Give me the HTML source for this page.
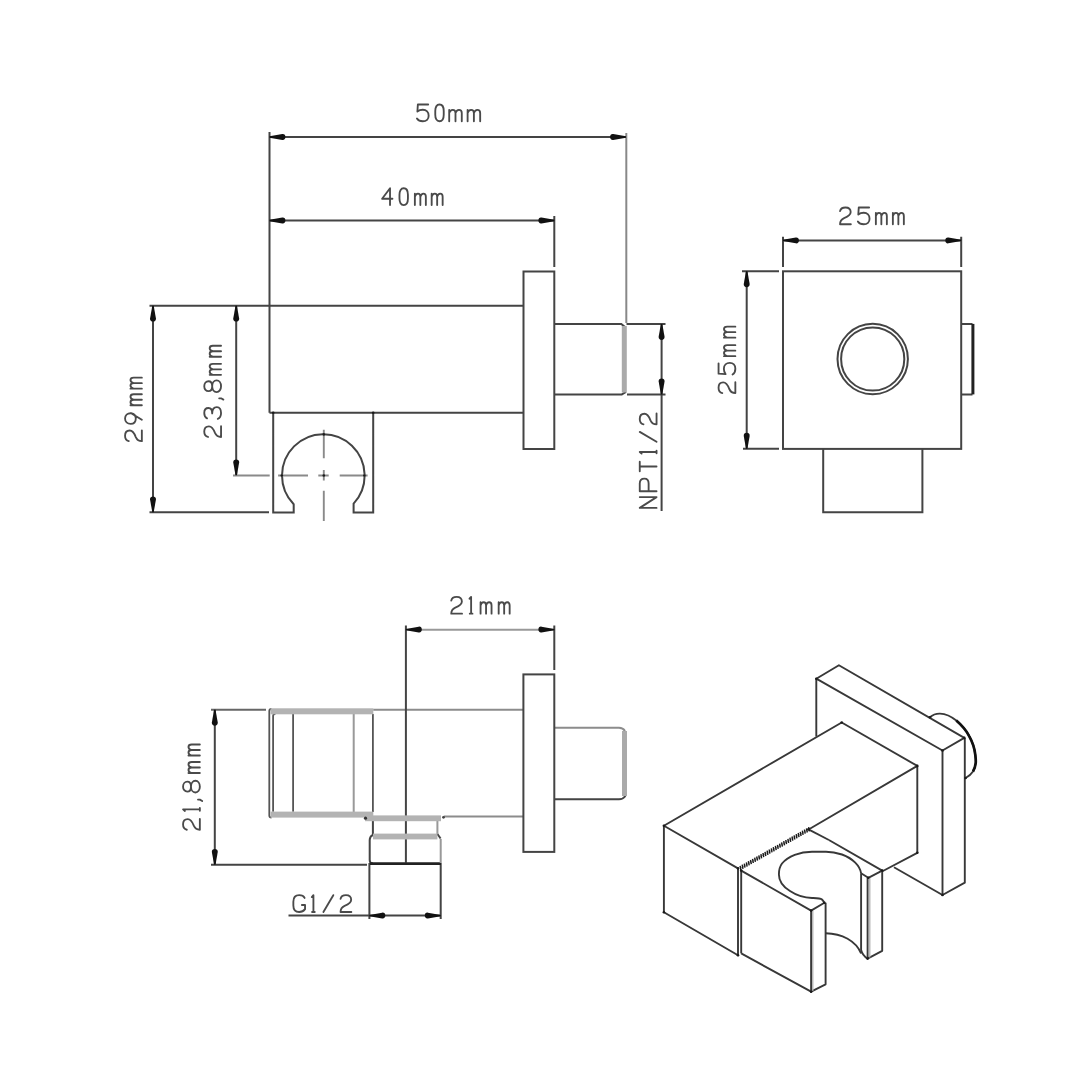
<!DOCTYPE html>
<html><head><meta charset="utf-8"><title>drawing</title>
<style>
html,body{margin:0;padding:0;background:#fff;width:1080px;height:1080px;overflow:hidden}
svg{display:block}
.t path{vector-effect:non-scaling-stroke}
</style></head>
<body>
<svg width="1080" height="1080" viewBox="0 0 1080 1080">
<defs>
<path id="ar" d="M0,-0.7 L-12.8,-2.95 C-14.9,-3.2 -15.9,-1.8 -15.9,0 C-15.9,1.8 -14.9,3.2 -12.8,2.95 L0,0.7 Z" fill="#111"/>
</defs>
<rect width="1080" height="1080" fill="#fff"/>

<!-- ============ TOP LEFT SIDE VIEW ============ -->
<g fill="none" stroke="#444" stroke-width="2">
  <!-- body -->
  <path d="M269.5,305.7 H523.5 M269.5,412.8 H523.5 M269.5,132 V412.8"/>
  <!-- flange -->
  <rect x="523.5" y="271.5" width="30.8" height="177.5"/>
  <!-- pipe -->
  <path d="M554.3,324 H621.3 L625,327 M626.5,324 H665.5 M554.3,394.4 H621.8 L626,392 M627,394.4 H665.5"/>
  <!-- holder -->
  <path d="M273.2,412.8 V512.5 H293.7 V504.3 A41.3,41.3 0 1 1 353.6,503.6 V512.5 H373.2 V412.8"/>
  <!-- 50mm dim -->
  <path d="M269.5,137 H626"/>
  <!-- 40mm dim -->
  <path d="M269.5,220.5 H554.3 M554.3,216 V267"/>
  <!-- 29mm dim -->
  <path d="M149.5,305.7 H269.5 M149.5,512.3 H269 M153,305.7 V512.3"/>
  <!-- 23,8 dim -->
  <path d="M236.2,305.7 V475.3"/>
  <!-- NPT dim -->
  <path d="M661.6,324 V511"/>
</g>
<g fill="none" stroke="#888" stroke-width="2">
  <path d="M626.3,133 V323"/>
</g>
<line x1="624.3" y1="326" x2="624.3" y2="392.5" stroke="#aaa" stroke-width="5"/>
<!-- center lines -->
<g fill="none" stroke="#8a8a8a" stroke-width="1.9">
  <path d="M233,475.5 H269.7 M278.1,475.5 H308 M318.3,475.5 H328.7 M339.7,475.5 H367.6"/>
  <path d="M323.8,429.8 V458.3 M323.8,470 V480.4 M323.8,490.7 V521"/>
</g>
<!-- arrows top-left view -->
<use href="#ar" transform="translate(269.5,137) rotate(180)"/>
<use href="#ar" transform="translate(626,137)"/>
<use href="#ar" transform="translate(269.5,220.5) rotate(180)"/>
<use href="#ar" transform="translate(554.3,220.5)"/>
<use href="#ar" transform="translate(153,305.7) rotate(-90)"/>
<use href="#ar" transform="translate(153,512.3) rotate(90)"/>
<use href="#ar" transform="translate(236.2,305.7) rotate(-90)"/>
<use href="#ar" transform="translate(236.2,475.3) rotate(90)"/>
<use href="#ar" transform="translate(661.6,324) rotate(-90)"/>
<use href="#ar" transform="translate(661.6,394.4) rotate(90)"/>

<!-- ============ TOP RIGHT FRONT VIEW ============ -->
<g fill="none" stroke="#444" stroke-width="2">
  <rect x="783" y="271.3" width="178.2" height="177.6"/>
  <circle cx="872.7" cy="359" r="35.2"/>
  <circle cx="872.7" cy="359" r="31.6"/>
  <path d="M961.2,323.9 H972.5 M961.2,394.4 H972.5"/>
  <path d="M823.2,448.9 V512.3 H922.4 V448.9"/>
  <!-- dims -->
  <path d="M783,240.4 H961.2 M783,236.8 V267 M961.2,236.7 V267"/>
  <path d="M746.7,271.3 V448.7 M742,271.3 H779 M743,448.7 H779"/>
</g>
<line x1="972.9" y1="323.9" x2="972.9" y2="394.4" stroke="#222" stroke-width="3"/>
<use href="#ar" transform="translate(783,240.4) rotate(180)"/>
<use href="#ar" transform="translate(961.2,240.4)"/>
<use href="#ar" transform="translate(746.7,271.3) rotate(-90)"/>
<use href="#ar" transform="translate(746.7,448.7) rotate(90)"/>

<!-- ============ BOTTOM LEFT TOP VIEW ============ -->
<!-- gray horizontal lines -->
<g fill="none" stroke="#8c8c8c" stroke-width="2">
  <path d="M373.2,709.7 H523.4 M443.7,816.6 H523.4 M554.3,727.8 H619 Q623,727.8 625,731"/>
  </g>
<path d="M211,709.8 H266" stroke="#666" stroke-width="2"/>
<path d="M405.9,629.7 H554.3" stroke="#999" stroke-width="2"/>
<g fill="none" stroke="#444" stroke-width="2">
  <!-- 21mm dim -->
  <path d="M405.9,625.4 V862.8 M554.3,625.4 V670"/>
  <!-- flange -->
  <rect x="523.4" y="674.4" width="30.9" height="177.5"/>
  <!-- pipe bottom -->
  <path d="M554.3,799.3 H619 Q623,799.3 625.5,796"/>
  <!-- 21,8 dim -->
  <path d="M214.8,709.8 V864.8 M211,864.8 H367"/>
  <!-- fitting -->
  <path d="M372.9,821 V834.8 Q369.7,836.5 369.7,840 V860 Q369.7,863.5 373,863.5"/>
  <path d="M437.4,834 L440.6,838.5"/>
  <!-- G1/2 dim -->
  <path d="M288.5,915.6 H440.7 M369.4,863 V919 M440.7,863 V919"/>
</g>
<g fill="none" stroke="#555" stroke-width="1.8">
  <!-- holder verticals -->
  <path d="M293.1,714 V811.8 M372.9,714 V812"/>
  <path d="M269.3,711 V815.5 Q269.3,817.5 271.5,817.5"/>
  <path d="M273.1,716 V811.7 M273.1,716 Q273.1,713.8 275.5,713.8"/>
  <path d="M269.3,711 Q269.3,709 271.5,709"/>
</g>
<line x1="370" y1="863.6" x2="441" y2="863.6" stroke="#222" stroke-width="2.7"/>
<g fill="none" stroke="#999" stroke-width="2">
  <path d="M437.4,820.5 V834"/>
  <path d="M353.7,714 V812"/>
  <path d="M440.7,839 V863"/>
</g>
<line x1="624.5" y1="731" x2="624.5" y2="796" stroke="#aaa" stroke-width="5"/>
<!-- gray bands -->
<rect x="270.5" y="708.3" width="102.8" height="6" fill="#b3b3b3"/>
<rect x="270.5" y="811.6" width="102.8" height="6" fill="#b3b3b3"/>
<rect x="365" y="815.4" width="76" height="5.8" fill="#b3b3b3"/>
<rect x="373" y="833.6" width="64.4" height="5.8" fill="#b3b3b3"/>
<circle cx="365.5" cy="818.2" r="1.6" fill="#333"/>
<circle cx="443.5" cy="817.3" r="1.4" fill="#444"/>
<use href="#ar" transform="translate(405.9,629.6) rotate(180)"/>
<use href="#ar" transform="translate(554.3,629.6)"/>
<use href="#ar" transform="translate(214.8,709.8) rotate(-90)"/>
<use href="#ar" transform="translate(214.8,864.8) rotate(90)"/>
<use href="#ar" transform="translate(369.4,915.6) rotate(180)"/>
<use href="#ar" transform="translate(440.7,915.6)"/>

<!-- ============ ISOMETRIC VIEW ============ -->
<g fill="none" stroke="#383838" stroke-width="1.9" stroke-linejoin="round">
  <!-- flange -->
  <path d="M816.3,736.5 V678.7 L838.9,665.2 L964.3,737.9 L942.5,750.5 L816.3,678.7"/>
  <path d="M942.5,750.5 V895 L964.8,882.7 V737.9"/>
  <path d="M942.5,895 L894,867.3"/>
  <!-- pipe arc behind flange -->
  <path d="M929.9,717.3 C933,714.5 936.5,713.5 940,713.6 C946,713.8 952,717 956.3,720.6 C962,725.5 966.5,731 969.3,736.3 C972.5,742 974.6,748.5 975.3,754.8 C975.8,759 975.9,761.5 975.7,763.1 C975.3,766.5 974.3,769.3 973,771.5 C971,774.5 968.5,776.5 965.6,778"/>
  <!-- body -->
  <path d="M841.7,722.5 L663.9,825.7 L738,868.4 M809,829.2 L917.3,765.9 V852.8 L882,871.5"/>
  <path d="M841.7,722.5 L917.3,765.9"/>
  <path d="M663.9,825.7 V912.3 L738,955.2 V868.4"/>
  <path d="M741.2,870.6 V953.4"/>
  <!-- holder -->
  <path d="M741.2,870.6 L811.1,910.6 L824.4,902.8"/>
  <path d="M741.2,953.4 L811.1,991.7 L825.6,984.3 V902.8"/>
  <path d="M811.1,910.6 V991.7"/>
  <path d="M828.9,840 L882.2,870.6 L868.3,877.8 L861.1,873.3"/>
  <path d="M808.5,829.3 L828.9,840"/>
  <path d="M882.2,870.6 V950.8 L867.6,958.6 V877.8"/>
  <path d="M861.1,873.3 V950 Q862.5,955.5 867.6,958.6"/>
  <!-- upper hook ellipse -->
  <path d="M861.1,873.3 C860,866 853,858.5 842,854.5 C836,852.5 832,851.7 826,851.7 H812 C800,851.7 788,856 782,863.5 C779.5,866.8 778.9,870.5 778.9,874.4 C778.9,880 782,886 790,891 C796,895 804,897.8 812,898 C816,898.1 820,898 822,899.5 Q823.5,901 824.4,902.8"/>
  <!-- lower arc -->
  <path d="M825.6,933.3 C842,933.5 856,941 861.1,953.5"/>
</g>
<path d="M956.3,720.6 C962,725.5 966.5,731 969.3,736.3 C972.5,742 974.6,748.5 975.3,754.8 C975.8,759 975.9,761.5 975.7,763.1 C975.3,766.5 974.3,769.3 973,771.5" fill="none" stroke="#111" stroke-width="2.7"/>
<!-- hatched edge -->
<line x1="740.5" y1="868" x2="809" y2="829.2" stroke="#999" stroke-width="0.8"/>
<path d="M740.1,865.9 L740.9,870.1 M742.2,864.7 L743.0,868.9 M744.3,863.6 L745.0,867.7 M746.4,862.4 L747.1,866.6 M748.4,861.2 L749.2,865.4 M750.5,860.0 L751.3,864.2 M752.6,858.9 L753.3,863.0 M754.7,857.7 L755.4,861.9 M756.7,856.5 L757.5,860.7 M758.8,855.3 L759.6,859.5 M760.9,854.2 L761.6,858.3 M763.0,853.0 L763.7,857.2 M765.0,851.8 L765.8,856.0 M767.1,850.6 L767.9,854.8 M769.2,849.5 L769.9,853.6 M771.3,848.3 L772.0,852.4 M773.3,847.1 L774.1,851.3 M775.4,845.9 L776.2,850.1 M777.5,844.8 L778.2,848.9 M779.6,843.6 L780.3,847.7 M781.6,842.4 L782.4,846.6 M783.7,841.2 L784.5,845.4 M785.8,840.0 L786.5,844.2 M787.9,838.9 L788.6,843.0 M789.9,837.7 L790.7,841.9 M792.0,836.5 L792.8,840.7 M794.1,835.3 L794.8,839.5 M796.2,834.2 L796.9,838.3 M798.2,833.0 L799.0,837.2 M800.3,831.8 L801.1,836.0 M802.4,830.6 L803.1,834.8 M804.5,829.5 L805.2,833.6 M806.5,828.3 L807.3,832.5 M808.6,827.1 L809.4,831.3" stroke="#1a1a1a" stroke-width="1.45" fill="none"/>
<g fill="none" stroke="#aaa" stroke-width="1.2">
  <path d="M812.8,911 V991"/>
  <path d="M869.8,878 V957.5"/>
</g>
<g fill="#1a1a1a"><circle cx="663.9" cy="825.7" r="1.3"/><circle cx="663.9" cy="912.3" r="1.3"/><circle cx="738" cy="868.4" r="1.3"/><circle cx="738" cy="955.2" r="1.3"/><circle cx="741.2" cy="870.6" r="1.3"/><circle cx="811.1" cy="910.6" r="1.3"/><circle cx="824.4" cy="902.8" r="1.3"/><circle cx="811.1" cy="991.7" r="1.3"/><circle cx="882.2" cy="870.6" r="1.3"/><circle cx="868.3" cy="877.8" r="1.3"/><circle cx="867.6" cy="958.6" r="1.3"/><circle cx="917.3" cy="765.9" r="1.3"/><circle cx="917.3" cy="852.8" r="1.3"/><circle cx="942.5" cy="750.5" r="1.3"/><circle cx="964.3" cy="737.9" r="1.3"/><circle cx="942.5" cy="895" r="1.3"/><circle cx="816.3" cy="678.7" r="1.3"/><circle cx="841.7" cy="722.5" r="1.3"/><circle cx="808.5" cy="829.3" r="1.3"/><circle cx="929.9" cy="717.3" r="1.3"/><circle cx="965.6" cy="778" r="1.3"/><circle cx="323.8" cy="434.4" r="1.3"/><circle cx="281.8" cy="475.5" r="1.3"/><circle cx="364.4" cy="475.5" r="1.3"/><circle cx="323.8" cy="475.5" r="1.3"/><circle cx="273.2" cy="412.8" r="1.3"/><circle cx="373.2" cy="412.8" r="1.3"/></g>
<g fill="none" stroke="#4a4a4a" stroke-width="1.85" stroke-linecap="round" stroke-linejoin="round" class="t">
<path transform="translate(416.50,121.25) scale(0.9,0.933)" d="M13,-18 H1.5 L1,-10.5 C3,-12 5,-12.3 7,-12.3 C11,-12.3 13.5,-9.5 13.5,-6 C13.5,-2.3 11,0 7,0 C4,0 1.8,-1 0.5,-3"/>
<path transform="translate(435.00,121.25) scale(0.9,0.933)" d="M5,-18 C1.8,-18 0.3,-15 0.3,-11 V-7 C0.3,-3 1.8,0 5,0 C8.2,0 9.7,-3 9.7,-7 V-11 C9.7,-15 8.2,-18 5,-18 Z"/>
<path transform="translate(448.90,121.25) scale(1.03,0.933)" d="M0.3,0 V-12.2 M0.3,-8.8 C1,-11.2 2.3,-12.2 3.7,-12.2 C5.4,-12.2 6.4,-10.9 6.4,-8.8 V0 M6.4,-8.8 C7.1,-11.2 8.4,-12.2 9.8,-12.2 C11.5,-12.2 12.5,-10.9 12.5,-8.8 V0"/>
<path transform="translate(467.30,121.25) scale(1.03,0.933)" d="M0.3,0 V-12.2 M0.3,-8.8 C1,-11.2 2.3,-12.2 3.7,-12.2 C5.4,-12.2 6.4,-10.9 6.4,-8.8 V0 M6.4,-8.8 C7.1,-11.2 8.4,-12.2 9.8,-12.2 C11.5,-12.2 12.5,-10.9 12.5,-8.8 V0"/>
<path transform="translate(382.10,205.05) scale(0.9,0.933)" d="M8.8,0 V-18 L0,-6.8 H11.5"/>
<path transform="translate(399.20,205.05) scale(0.9,0.933)" d="M5,-18 C1.8,-18 0.3,-15 0.3,-11 V-7 C0.3,-3 1.8,0 5,0 C8.2,0 9.7,-3 9.7,-7 V-11 C9.7,-15 8.2,-18 5,-18 Z"/>
<path transform="translate(414.60,205.05) scale(0.9,0.933)" d="M0.3,0 V-12.2 M0.3,-8.8 C1,-11.2 2.3,-12.2 3.7,-12.2 C5.4,-12.2 6.4,-10.9 6.4,-8.8 V0 M6.4,-8.8 C7.1,-11.2 8.4,-12.2 9.8,-12.2 C11.5,-12.2 12.5,-10.9 12.5,-8.8 V0"/>
<path transform="translate(431.40,205.05) scale(0.9,0.933)" d="M0.3,0 V-12.2 M0.3,-8.8 C1,-11.2 2.3,-12.2 3.7,-12.2 C5.4,-12.2 6.4,-10.9 6.4,-8.8 V0 M6.4,-8.8 C7.1,-11.2 8.4,-12.2 9.8,-12.2 C11.5,-12.2 12.5,-10.9 12.5,-8.8 V0"/>
<path transform="translate(839.60,224.25) scale(0.9,0.933)" d="M0.5,-14 C1,-16.5 3.5,-18 6.5,-18 C10,-18 12.3,-16 12.3,-13 C12.3,-9.5 9,-8 5,-6.5 C1.5,-5 0.5,-3 0.5,0 H12.5"/>
<path transform="translate(857.40,224.25) scale(0.9,0.933)" d="M13,-18 H1.5 L1,-10.5 C3,-12 5,-12.3 7,-12.3 C11,-12.3 13.5,-9.5 13.5,-6 C13.5,-2.3 11,0 7,0 C4,0 1.8,-1 0.5,-3"/>
<path transform="translate(875.60,224.25) scale(0.9,0.933)" d="M0.3,0 V-12.2 M0.3,-8.8 C1,-11.2 2.3,-12.2 3.7,-12.2 C5.4,-12.2 6.4,-10.9 6.4,-8.8 V0 M6.4,-8.8 C7.1,-11.2 8.4,-12.2 9.8,-12.2 C11.5,-12.2 12.5,-10.9 12.5,-8.8 V0"/>
<path transform="translate(892.60,224.25) scale(0.9,0.933)" d="M0.3,0 V-12.2 M0.3,-8.8 C1,-11.2 2.3,-12.2 3.7,-12.2 C5.4,-12.2 6.4,-10.9 6.4,-8.8 V0 M6.4,-8.8 C7.1,-11.2 8.4,-12.2 9.8,-12.2 C11.5,-12.2 12.5,-10.9 12.5,-8.8 V0"/>
<path transform="translate(450.80,613.65) scale(0.9,0.933)" d="M0.5,-14 C1,-16.5 3.5,-18 6.5,-18 C10,-18 12.3,-16 12.3,-13 C12.3,-9.5 9,-8 5,-6.5 C1.5,-5 0.5,-3 0.5,0 H12.5"/>
<path transform="translate(468.60,613.65) scale(0.9,0.933)" d="M1,-16 L2.8,-18 V0 M1.3,0 H4.3"/>
<path transform="translate(480.30,613.65) scale(0.9,0.933)" d="M0.3,0 V-12.2 M0.3,-8.8 C1,-11.2 2.3,-12.2 3.7,-12.2 C5.4,-12.2 6.4,-10.9 6.4,-8.8 V0 M6.4,-8.8 C7.1,-11.2 8.4,-12.2 9.8,-12.2 C11.5,-12.2 12.5,-10.9 12.5,-8.8 V0"/>
<path transform="translate(498.40,613.65) scale(0.9,0.933)" d="M0.3,0 V-12.2 M0.3,-8.8 C1,-11.2 2.3,-12.2 3.7,-12.2 C5.4,-12.2 6.4,-10.9 6.4,-8.8 V0 M6.4,-8.8 C7.1,-11.2 8.4,-12.2 9.8,-12.2 C11.5,-12.2 12.5,-10.9 12.5,-8.8 V0"/>
<path transform="translate(292.90,911.95) scale(0.9,0.933)" d="M13,-15 C12,-17 10,-18 7,-18 C3,-18 0.5,-15.5 0.5,-11 V-7 C0.5,-2.5 3,0 7,0 C10,0 12,-1 13.5,-3 V-7.5 H10"/>
<path transform="translate(310.90,911.95) scale(0.9,0.933)" d="M1,-16 L2.8,-18 V0 M1.3,0 H4.3"/>
<path transform="translate(323.40,911.95) scale(0.9,0.933)" d="M0,0 L11,-18"/>
<path transform="translate(340.10,911.95) scale(0.9,0.933)" d="M0.5,-14 C1,-16.5 3.5,-18 6.5,-18 C10,-18 12.3,-16 12.3,-13 C12.3,-9.5 9,-8 5,-6.5 C1.5,-5 0.5,-3 0.5,0 H12.5"/>
<path transform="translate(141.85,441.60) rotate(-90) scale(0.9,0.933)" d="M0.5,-14 C1,-16.5 3.5,-18 6.5,-18 C10,-18 12.3,-16 12.3,-13 C12.3,-9.5 9,-8 5,-6.5 C1.5,-5 0.5,-3 0.5,0 H12.5"/>
<path transform="translate(141.85,424.30) rotate(-90) scale(0.9,0.933)" d="M12.3,-12 C12.3,-15.5 10,-18 6.5,-18 C3,-18 0.5,-15.5 0.5,-12 C0.5,-8.5 3,-6.5 6.5,-6.5 C9.5,-6.5 11.8,-8.5 12.3,-11.5 L5,0"/>
<path transform="translate(141.85,405.50) rotate(-90) scale(0.9,0.933)" d="M0.3,0 V-12.2 M0.3,-8.8 C1,-11.2 2.3,-12.2 3.7,-12.2 C5.4,-12.2 6.4,-10.9 6.4,-8.8 V0 M6.4,-8.8 C7.1,-11.2 8.4,-12.2 9.8,-12.2 C11.5,-12.2 12.5,-10.9 12.5,-8.8 V0"/>
<path transform="translate(141.85,388.90) rotate(-90) scale(0.9,0.933)" d="M0.3,0 V-12.2 M0.3,-8.8 C1,-11.2 2.3,-12.2 3.7,-12.2 C5.4,-12.2 6.4,-10.9 6.4,-8.8 V0 M6.4,-8.8 C7.1,-11.2 8.4,-12.2 9.8,-12.2 C11.5,-12.2 12.5,-10.9 12.5,-8.8 V0"/>
<path transform="translate(221.05,437.40) rotate(-90) scale(0.9,0.933)" d="M0.5,-14 C1,-16.5 3.5,-18 6.5,-18 C10,-18 12.3,-16 12.3,-13 C12.3,-9.5 9,-8 5,-6.5 C1.5,-5 0.5,-3 0.5,0 H12.5"/>
<path transform="translate(221.05,418.80) rotate(-90) scale(0.9,0.933)" d="M0.5,-15 C1.5,-17 3.5,-18 6.5,-18 C9.5,-18 12,-16.5 12,-13.5 C12,-11 10,-9.5 6,-9.5 M6,-9.5 C10.5,-9.5 13,-7.5 13,-4.5 C13,-1.5 10.5,0 6.5,0 C3.5,0 1,-1 0,-3.5"/>
<path transform="translate(221.05,400.10) rotate(-90) scale(0.9,0.933)" d="M2,-2 V0 L0.5,2.5"/>
<path transform="translate(221.05,392.30) rotate(-90) scale(0.9,0.933)" d="M6.75,-18 C3.5,-18 1.25,-16 1.25,-13.5 C1.25,-11 3.5,-9.5 6.75,-9.5 C10,-9.5 12.25,-11 12.25,-13.5 C12.25,-16 10,-18 6.75,-18 Z M6.75,-9.5 C3,-9.5 0.25,-7.5 0.25,-4.75 C0.25,-2 3,0 6.75,0 C10.5,0 13.25,-2 13.25,-4.75 C13.25,-7.5 10.5,-9.5 6.75,-9.5 Z"/>
<path transform="translate(221.05,375.10) rotate(-90) scale(0.9,0.933)" d="M0.3,0 V-12.2 M0.3,-8.8 C1,-11.2 2.3,-12.2 3.7,-12.2 C5.4,-12.2 6.4,-10.9 6.4,-8.8 V0 M6.4,-8.8 C7.1,-11.2 8.4,-12.2 9.8,-12.2 C11.5,-12.2 12.5,-10.9 12.5,-8.8 V0"/>
<path transform="translate(221.05,357.00) rotate(-90) scale(0.9,0.933)" d="M0.3,0 V-12.2 M0.3,-8.8 C1,-11.2 2.3,-12.2 3.7,-12.2 C5.4,-12.2 6.4,-10.9 6.4,-8.8 V0 M6.4,-8.8 C7.1,-11.2 8.4,-12.2 9.8,-12.2 C11.5,-12.2 12.5,-10.9 12.5,-8.8 V0"/>
<path transform="translate(656.55,507.90) rotate(-90) scale(0.9,0.933)" d="M0,0 V-18 L12,0 V-18"/>
<path transform="translate(656.55,491.20) rotate(-90) scale(0.9,0.933)" d="M0,0 V-18 H8.5 C12,-18 14,-16 14,-13 C14,-10 12,-8.5 8.5,-8.5 H0"/>
<path transform="translate(656.55,471.20) rotate(-90) scale(0.9,0.933)" d="M0,-18 H10.5 M5.25,-18 V0"/>
<path transform="translate(656.55,454.50) rotate(-90) scale(0.9,0.933)" d="M1,-16 L2.8,-18 V0 M1.3,0 H4.3"/>
<path transform="translate(656.55,441.80) rotate(-90) scale(0.9,0.933)" d="M0,0 L11,-18"/>
<path transform="translate(656.55,424.80) rotate(-90) scale(0.9,0.933)" d="M0.5,-14 C1,-16.5 3.5,-18 6.5,-18 C10,-18 12.3,-16 12.3,-13 C12.3,-9.5 9,-8 5,-6.5 C1.5,-5 0.5,-3 0.5,0 H12.5"/>
<path transform="translate(735.35,393.50) rotate(-90) scale(0.9,0.933)" d="M0.5,-14 C1,-16.5 3.5,-18 6.5,-18 C10,-18 12.3,-16 12.3,-13 C12.3,-9.5 9,-8 5,-6.5 C1.5,-5 0.5,-3 0.5,0 H12.5"/>
<path transform="translate(735.35,375.00) rotate(-90) scale(0.9,0.933)" d="M13,-18 H1.5 L1,-10.5 C3,-12 5,-12.3 7,-12.3 C11,-12.3 13.5,-9.5 13.5,-6 C13.5,-2.3 11,0 7,0 C4,0 1.8,-1 0.5,-3"/>
<path transform="translate(735.35,356.40) rotate(-90) scale(0.9,0.933)" d="M0.3,0 V-12.2 M0.3,-8.8 C1,-11.2 2.3,-12.2 3.7,-12.2 C5.4,-12.2 6.4,-10.9 6.4,-8.8 V0 M6.4,-8.8 C7.1,-11.2 8.4,-12.2 9.8,-12.2 C11.5,-12.2 12.5,-10.9 12.5,-8.8 V0"/>
<path transform="translate(735.35,337.90) rotate(-90) scale(0.9,0.933)" d="M0.3,0 V-12.2 M0.3,-8.8 C1,-11.2 2.3,-12.2 3.7,-12.2 C5.4,-12.2 6.4,-10.9 6.4,-8.8 V0 M6.4,-8.8 C7.1,-11.2 8.4,-12.2 9.8,-12.2 C11.5,-12.2 12.5,-10.9 12.5,-8.8 V0"/>
<path transform="translate(199.85,830.20) rotate(-90) scale(0.9,0.933)" d="M0.5,-14 C1,-16.5 3.5,-18 6.5,-18 C10,-18 12.3,-16 12.3,-13 C12.3,-9.5 9,-8 5,-6.5 C1.5,-5 0.5,-3 0.5,0 H12.5"/>
<path transform="translate(199.85,811.90) rotate(-90) scale(0.9,0.933)" d="M1,-16 L2.8,-18 V0 M1.3,0 H4.3"/>
<path transform="translate(199.85,801.40) rotate(-90) scale(0.9,0.933)" d="M2,-2 V0 L0.5,2.5"/>
<path transform="translate(199.85,792.70) rotate(-90) scale(0.9,0.933)" d="M6.75,-18 C3.5,-18 1.25,-16 1.25,-13.5 C1.25,-11 3.5,-9.5 6.75,-9.5 C10,-9.5 12.25,-11 12.25,-13.5 C12.25,-16 10,-18 6.75,-18 Z M6.75,-9.5 C3,-9.5 0.25,-7.5 0.25,-4.75 C0.25,-2 3,0 6.75,0 C10.5,0 13.25,-2 13.25,-4.75 C13.25,-7.5 10.5,-9.5 6.75,-9.5 Z"/>
<path transform="translate(199.85,773.30) rotate(-90) scale(0.9,0.933)" d="M0.3,0 V-12.2 M0.3,-8.8 C1,-11.2 2.3,-12.2 3.7,-12.2 C5.4,-12.2 6.4,-10.9 6.4,-8.8 V0 M6.4,-8.8 C7.1,-11.2 8.4,-12.2 9.8,-12.2 C11.5,-12.2 12.5,-10.9 12.5,-8.8 V0"/>
<path transform="translate(199.85,755.80) rotate(-90) scale(0.9,0.933)" d="M0.3,0 V-12.2 M0.3,-8.8 C1,-11.2 2.3,-12.2 3.7,-12.2 C5.4,-12.2 6.4,-10.9 6.4,-8.8 V0 M6.4,-8.8 C7.1,-11.2 8.4,-12.2 9.8,-12.2 C11.5,-12.2 12.5,-10.9 12.5,-8.8 V0"/>
</g>
</svg>
</body></html>
